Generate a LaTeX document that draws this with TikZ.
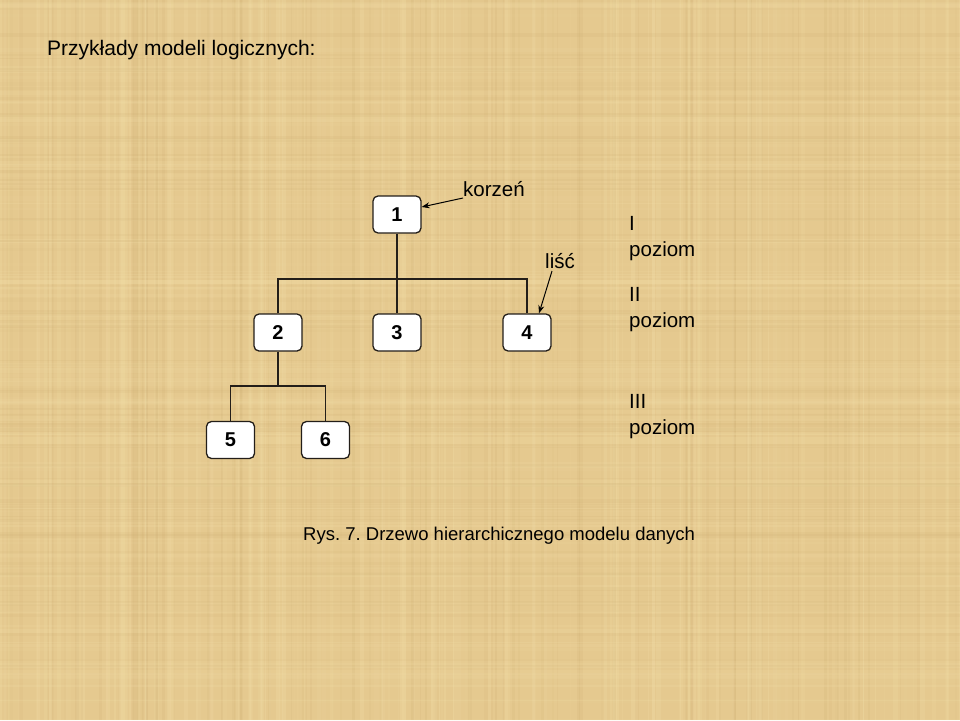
\documentclass[tikz,border=0pt]{standalone}
\usepackage{fontspec}
\setmainfont{Liberation Sans}
\usetikzlibrary{arrows.meta}
\frenchspacing
\definecolor{papyrus}{RGB}{229,201,143}
\definecolor{papyrusL}{RGB}{245,226,172}
\definecolor{papyrusD}{RGB}{200,168,108}
\definecolor{linec}{RGB}{35,30,25}
\tikzset{
  box/.style={draw=linec, line width=1.3pt, fill=white, rounded corners=5pt,
    minimum width=48pt, minimum height=37pt, inner sep=0pt,
    font=\fontsize{20}{24}\selectfont\bfseries},
  conn/.style={draw=linec, line width=1.3pt},
  ptr/.style={draw=black, line width=1pt, -{Stealth[length=8pt,width=6pt]}},
  lbl/.style={font=\fontsize{20.5}{26}\selectfont, inner sep=0pt, text=black},
  level/.style={lbl, align=left, anchor=north west},
}
\begin{document}
\begin{tikzpicture}[x=1pt,y=-1pt]
\fill[papyrus] (0,0) rectangle (960,720);
\useasboundingbox (0,0) rectangle (960,720);
% subtle papyrus weave texture
\begin{scope}
\pgfmathsetseed{7}
\foreach \i in {1,...,140}{
  \pgfmathsetmacro{\xx}{960*rnd}
  \pgfmathsetmacro{\ww}{1+4*rnd}
  \pgfmathsetmacro{\oo}{0.05+0.18*rnd}
  \fill[papyrusL, opacity=\oo] (\xx,0) rectangle ++(\ww,720);
}
\foreach \i in {1,...,90}{
  \pgfmathsetmacro{\xx}{960*rnd}
  \pgfmathsetmacro{\ww}{1+3*rnd}
  \pgfmathsetmacro{\oo}{0.04+0.12*rnd}
  \fill[papyrusD, opacity=\oo] (\xx,0) rectangle ++(\ww,720);
}
\foreach \i in {1,...,110}{
  \pgfmathsetmacro{\yy}{720*rnd}
  \pgfmathsetmacro{\hh}{1+4*rnd}
  \pgfmathsetmacro{\oo}{0.05+0.15*rnd}
  \fill[papyrusL, opacity=\oo] (0,\yy) rectangle ++(960,\hh);
}
\foreach \i in {1,...,70}{
  \pgfmathsetmacro{\yy}{720*rnd}
  \pgfmathsetmacro{\hh}{1+3*rnd}
  \pgfmathsetmacro{\oo}{0.04+0.10*rnd}
  \fill[papyrusD, opacity=\oo] (0,\yy) rectangle ++(960,\hh);
}
\end{scope}

\node[lbl, anchor=base west, font=\fontsize{21}{25}\selectfont] (title) at (47,55) {Przykłady modeli logicznych:};

\node[box] (n1) at (397,214.5) {1};
\node[box] (n2) at (278,332.5) {2};
\node[box] (n3) at (397,332.5) {3};
\node[box] (n4) at (527,332.5) {4};
\node[box] (n5) at (230.5,440) {5};
\node[box] (n6) at (325.5,440) {6};

\coordinate (bar1) at (397,279);
\coordinate (bar2) at (278,386);
\draw[conn] (n1.south) -- (n3.north);
\draw[conn] (n2.north) -- (n2.north |- bar1) -- (n4.north |- bar1) -- (n4.north);
\draw[conn] (n2.south) -- (bar2);
\draw[conn] (n5.north) -- (n5.north |- bar2) -- (n6.north |- bar2) -- (n6.north);

\node[lbl, anchor=base west] (korzen) at (463,196.5) {korzeń};
\draw[ptr] ([yshift=-1.5pt]korzen.base west) -- ([yshift=7.5pt]n1.east);
\node[lbl, anchor=base west] (lisc) at (545,268) {liść};
\draw[ptr] ([xshift=7pt,yshift=-3pt]lisc.base west) -- ([xshift=12pt]n4.north);

\node[level] (lv1) at (629,216) {I\\poziom};
\node[level] (lv2) at (629,287) {II\\poziom};
\node[level] (lv3) at (629,394.5) {III\\poziom};

\node[lbl, anchor=base west, font=\fontsize{18.5}{22}\selectfont] (cap) at (303,540) {Rys. 7. Drzewo hierarchicznego modelu danych};
\end{tikzpicture}
\end{document}
